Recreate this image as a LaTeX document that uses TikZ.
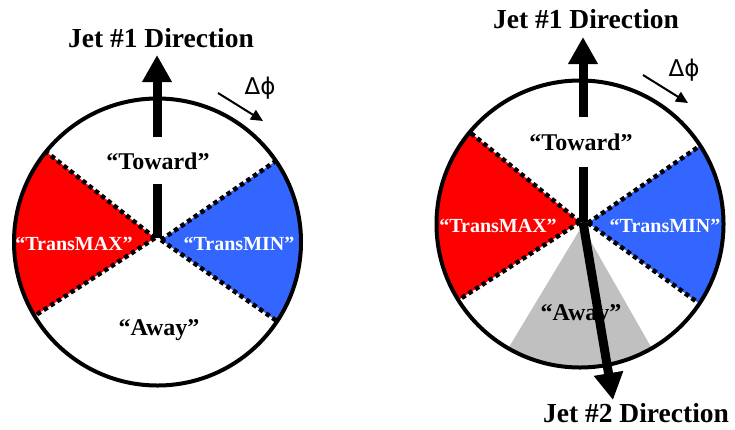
\documentclass[tikz,border=0pt]{standalone}
\usepackage{fontspec}
\setmainfont{Liberation Serif}
\newfontfamily\symfont{DejaVu Sans}
\usetikzlibrary{arrows.meta}
\definecolor{tred}{RGB}{255,0,0}
\definecolor{tblue}{RGB}{51,102,255}
\definecolor{tgray}{RGB}{192,192,192}
\begin{document}
\begin{tikzpicture}[x=1pt,y=-1pt,
  ring/.style={line width=4pt},
  sepline/.style={line width=4.5pt, dash pattern=on 4.5pt off 3.5pt},
  jet/.style={line width=9pt},
  jethead/.style={-{Triangle[length=27pt,width=28pt]}},
  biglabel/.style={font=\fontsize{27.5}{30}\selectfont\bfseries, inner sep=0pt, anchor=base},
  midlabel/.style={font=\fontsize{24}{26}\selectfont\bfseries, inner xsep=1pt, inner ysep=0pt, anchor=base},
  translabel/.style={font=\fontsize{20}{22}\selectfont\bfseries, text=white, inner sep=0pt, anchor=base},
  dphilabel/.style={font=\fontsize{23}{25}\selectfont\symfont, inner sep=0pt, anchor=base},
  rotarrow/.style={line width=2pt, -{Triangle[length=12pt,width=11pt]}}]
\useasboundingbox (0,0) rectangle (735,429);

% ---------------- left diagram ----------------
\coordinate (Lc) at (157.5,242);
\coordinate (Lr) at (155,238);
\coordinate (Lb) at (161,240);
\coordinate (Lo) at (157,238);
\coordinate (Ltip) at (157,55);
\fill[tred] (Lr) -- ([shift={(219:143.5)}]Lc) arc[start angle=219, end angle=149, radius=143.5] -- cycle;
\fill[tblue] (Lb) -- ([shift={(-34.4:143.5)}]Lc) arc[start angle=-34.4, end angle=33.5, radius=143.5] -- cycle;
\draw[sepline] (Lr) -- ([shift={(219:142)}]Lc);
\draw[sepline] (Lr) -- ([shift={(149:142)}]Lc);
\draw[sepline] (Lb) -- ([shift={(-34.4:142)}]Lc);
\draw[sepline] (Lb) -- ([shift={(33.5:142)}]Lc);
\draw[ring] (Lc) circle[radius=143.5];

\node[biglabel] (Ljet) at (161,47) {Jet \#1 Direction};
\node[midlabel, inner ysep=15pt] (Ltow) at (158,169) {“Toward”};
\node[midlabel] (Laway) at (159,335) {“Away”};
\node[translabel] (Lmax) at (74,250) {“TransMAX”};
\node[translabel] (Lmin) at (239,250) {“TransMIN”};
\node[dphilabel] (Ldphi) at (260,94) {Δϕ};
\coordinate (Lra) at (218,93);
\coordinate (Lrb) at (263,121);
\draw[rotarrow] (Lra) -- (Lrb);

\draw[jet] (Lo) -- (Ltow.south -| Lo);
\draw[jet, jethead] (Ltow.north -| Lo) -- (Ltip);

% ---------------- right diagram ----------------
\coordinate (Rc) at (580,224);
\coordinate (Rr) at (580,222);
\coordinate (Rb) at (588,223);
\coordinate (Rg) at (582,226);
\coordinate (Ro) at (583,222);
\coordinate (Rtip) at (583,37);
\coordinate (Rtwo) at (613,400);
\fill[tgray] (Rg) -- ([shift={(120:143.5)}]Rc) arc[start angle=120, end angle=60, radius=143.5] -- cycle;
\fill[tred] (Rr) -- ([shift={(219.8:143.5)}]Rc) arc[start angle=219.8, end angle=148, radius=143.5] -- cycle;
\fill[tblue] (Rb) -- ([shift={(-33.1:143.5)}]Rc) arc[start angle=-33.1, end angle=33.7, radius=143.5] -- cycle;
\draw[sepline] (Rr) -- ([shift={(219.8:142)}]Rc);
\draw[sepline] (Rr) -- ([shift={(148:142)}]Rc);
\draw[sepline] (Rb) -- ([shift={(-33.1:142)}]Rc);
\draw[sepline] (Rb) -- ([shift={(33.7:142)}]Rc);
\draw[ring] (Rc) circle[radius=143.5];

\node[biglabel] (Rjet) at (586,28) {Jet \#1 Direction};
\node[biglabel] (Rjet2) at (636,422) {Jet \#2 Direction};
\node[midlabel, inner ysep=16.5pt] (Rtow) at (581,150) {“Toward”};
\node[midlabel] (Raway) at (581,320) {“Away”};
\node[translabel] (Rmax) at (498,232) {“TransMAX”};
\node[translabel] (Rmin) at (665,232) {“TransMIN”};
\node[dphilabel] (Rdphi) at (684,76) {Δϕ};
\coordinate (Rra) at (643,75);
\coordinate (Rrb) at (688,103);
\draw[rotarrow] (Rra) -- (Rrb);

\draw[jet] (Ro) -- (Rtow.south -| Ro);
\draw[jet, jethead] (Rtow.north -| Ro) -- (Rtip);
\draw[jet, jethead] (Ro) -- (Rtwo);
\end{tikzpicture}
\end{document}
